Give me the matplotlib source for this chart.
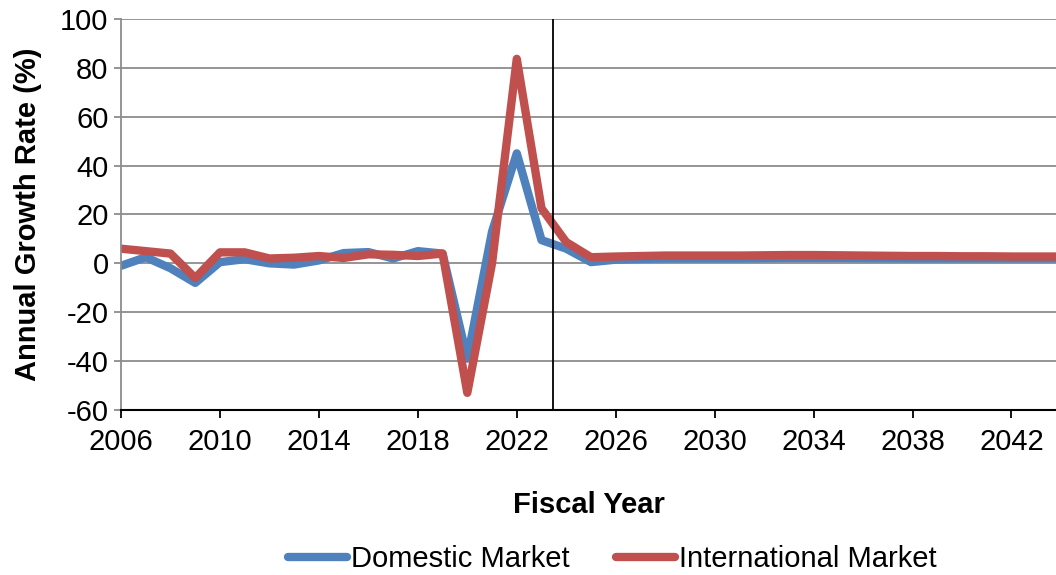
import numpy as np
import matplotlib.pyplot as plt

plt.rcParams['font.family'] = ['Liberation Sans', 'DejaVu Sans']
plt.rcParams['axes.unicode_minus'] = False

years = np.arange(2006, 2045)

domestic = [-1, 2.5, -2, -8, 0.5, 1.7, 0, -0.5, 1.2, 4.2, 4.6, 2, 5, 4,
            -39, 13, 45, 9.5, 6,
            0.5, 1.5, 1.8, 2.0, 2.0, 2.0, 2.0, 2.1, 2.2, 2.2, 2.2, 2.1, 2.1,
            2.0, 2.0, 2.0, 2.0, 2.0, 2.0, 2.0]
international = [6, 5, 4, -6, 4.5, 4.5, 2, 2.3, 3, 2.2, 3.7, 3.5, 3, 4,
                 -53, 0, 83.7, 22.5, 8.7,
                 2.5, 2.8, 3.0, 3.2, 3.2, 3.2, 3.2, 3.3, 3.4, 3.4, 3.3, 3.2,
                 3.1, 3.0, 3.0, 2.9, 2.9, 2.8, 2.8, 2.8]

forecast_start = 2023.45

fig = plt.figure(figsize=(10.56, 5.75), dpi=100)
ax = fig.add_axes([0.1146, 0.287, 0.8854, 0.680])

ax.plot(years, domestic, color='#4F81BD', lw=6, label='Domestic Market',
        solid_joinstyle='round', solid_capstyle='round')
ax.plot(years, international, color='#C0504D', lw=6, label='International Market',
        solid_joinstyle='round', solid_capstyle='round')
ax.axvline(forecast_start, color='black', lw=1.3)

ax.set_xlim(2006, 2043.8)
ax.set_ylim(-60, 100)
ax.set_xticks(np.arange(2006, 2043, 4))
ax.set_yticks(np.arange(-60, 101, 20))
ax.yaxis.grid(True, color='#8c8c8c', lw=1.3)
ax.set_axisbelow(True)

for s in ['top', 'right']:
    ax.spines[s].set_visible(False)
ax.spines['left'].set_color('#8c8c8c')
ax.spines['left'].set_linewidth(1.3)
ax.spines['bottom'].set_color('black')
ax.spines['bottom'].set_linewidth(1.5)
ax.spines['bottom'].set_zorder(5)

ax.tick_params(axis='y', length=5, width=1.3, color='#8c8c8c', labelsize=21, pad=4)
ax.tick_params(axis='x', length=6, width=1.3, color='black', labelsize=21, pad=7)

ax.set_xlabel('Fiscal Year', fontsize=21, fontweight='bold', labelpad=25)
ax.set_ylabel('Annual Growth Rate (%)', fontsize=21, fontweight='bold', labelpad=13)

fig.legend(loc='center', bbox_to_anchor=(0.58, 0.028), ncol=2, frameon=False,
           fontsize=21, handlelength=2.0, handletextpad=0.15, columnspacing=1.6)

fig.savefig('out.png', dpi=100)
